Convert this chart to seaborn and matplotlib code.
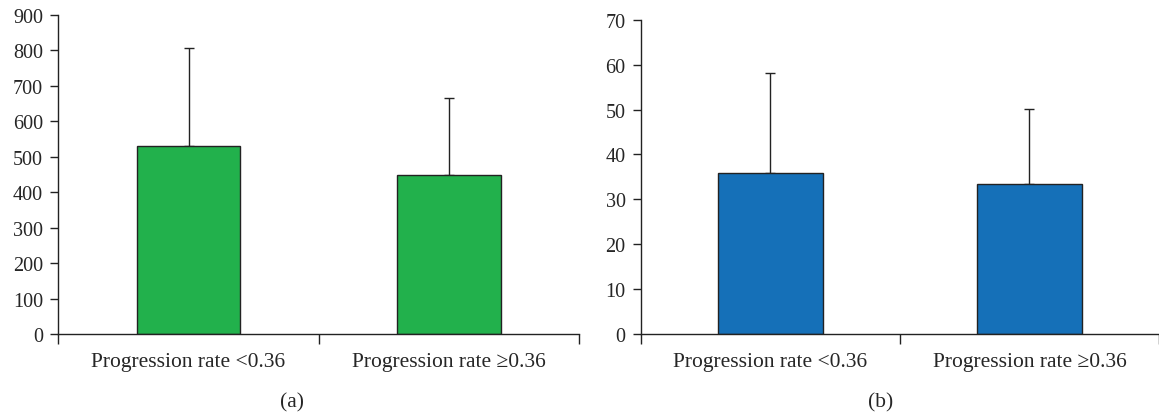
import matplotlib
matplotlib.use("Agg")
import matplotlib.pyplot as plt
import seaborn as sns
import pandas as pd

categories = ["Progression rate <0.36", "Progression rate \u22650.36"]
values_a = [531, 449]
errors_a = [275, 216]
values_b = [35.9, 33.3]
errors_b = [22.3, 16.8]
yticks_a = [0, 100, 200, 300, 400, 500, 600, 700, 800, 900]
yticks_b = [0, 10, 20, 30, 40, 50, 60, 70]
captions = ["(a)", "(b)"]

sns.set_theme(style="ticks")
plt.rcParams["font.family"] = ["Liberation Serif", "DejaVu Serif"]
plt.rcParams["font.size"] = 14

fig = plt.figure(figsize=(11.59, 4.14), dpi=100)
ax_a = fig.add_axes([58.4 / 1159, 1 - 335 / 414, (579 - 58.4) / 1159, (335 - 16) / 414])
ax_b = fig.add_axes([640.9 / 1159, 1 - 335 / 414, (1159 - 640.9) / 1159, (335 - 20.7) / 414])

panels = [
    (ax_a, values_a, errors_a, yticks_a, "#22B14C", 0.397, (-0.5, 1.5)),
    (ax_b, values_b, errors_b, yticks_b, "#1570B8", 0.406, (-0.5, 1.48)),
]

fs_y = 14.5
fs_x = 15.5
for ax, vals, errs, yt, col, w, xl in panels:
    df = pd.DataFrame({"cat": categories, "val": vals})
    sns.barplot(data=df, x="cat", y="val", color=col, saturation=1, width=w,
                edgecolor="#222222", linewidth=1.0, ax=ax, zorder=2)
    ax.errorbar([0, 1], vals, yerr=[[0, 0], errs], fmt="none", ecolor="#222222",
                elinewidth=1.0, capsize=3.5, capthick=1.0, zorder=1)
    ax.set_xlim(*xl)
    ax.set_ylim(yt[0], yt[-1])
    ax.set_yticks(yt)
    ax.set_yticklabels([str(t) for t in yt], fontsize=fs_y)
    ax.set_xticks([-0.5, 0.5, 1.5])
    ax.set_xticklabels([])
    ax.set_xticks([0, 1], minor=True)
    ax.set_xticklabels(categories, minor=True, fontsize=fs_x)
    ax.tick_params(axis="x", which="minor", length=0, pad=13)
    ax.tick_params(axis="x", which="major", length=7, width=1.0, direction="out", color="#222222")
    ax.tick_params(axis="y", length=6, width=1.0, direction="out", color="#222222", pad=5)
    ax.set_xlabel("")
    ax.set_ylabel("")
    for s in ["top", "right"]:
        ax.spines[s].set_visible(False)
    for s in ["left", "bottom"]:
        ax.spines[s].set_linewidth(1.0)
        ax.spines[s].set_color("#222222")
    ax.set_facecolor("white")

fig.text(292 / 1159, 1 - 403 / 414, captions[0], ha="center", va="center", fontsize=fs_x)
fig.text(881 / 1159, 1 - 403 / 414, captions[1], ha="center", va="center", fontsize=fs_x)

fig.savefig("out.png", dpi=100, facecolor="white")
